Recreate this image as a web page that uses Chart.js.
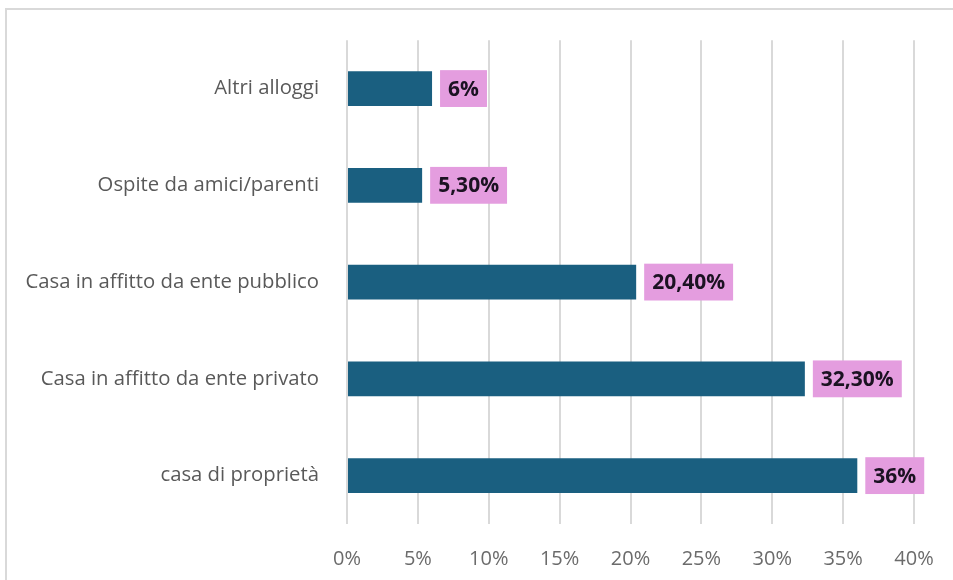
<!DOCTYPE html>
<html>
<head>
<meta charset="utf-8">
<script src="https://cdn.jsdelivr.net/npm/chart.js@4.4.1/dist/chart.umd.min.js"></script>
<style>
    html, body { margin: 0; padding: 0; background: #ffffff; overflow: hidden; }
    #wrap { position: relative; width: 953px; height: 580px; overflow: hidden; }
    #frame {
        position: absolute; left: 5px; top: 8px; width: 1100px; height: 700px;
        border: 2px solid #d9d9d9; box-sizing: border-box;
    }
    #barChart { position: absolute; left: 0; top: 0; }
</style>
</head>
<body>
<div id="wrap">
    <div id="frame"></div>
    <canvas id="barChart" width="953" height="580"></canvas>
</div>
<script>
// Chart data
const categories = [
    'Altri alloggi',
    'Ospite da amici/parenti',
    'Casa in affitto da ente pubblico',
    'Casa in affitto da ente privato',
    'casa di proprietà'
];
const values = [6, 5.3, 20.4, 32.3, 36];
const valueLabels = ['6%', '5,30%', '20,40%', '32,30%', '36%'];
const xTicks = [0, 5, 10, 15, 20, 25, 30, 35, 40];

const FONT = "'Open Sans', 'Noto Sans', sans-serif";

/**
 * Draws the pink value boxes at the end of each bar
 */
const valueBoxes = {
    id: 'valueBoxes',
    afterDatasetsDraw(chart) {
        const c = chart.ctx;
        const meta = chart.getDatasetMeta(0);
        c.save();
        c.font = "bold 21px " + FONT;
        c.textBaseline = 'middle';
        c.textAlign = 'left';
        meta.data.forEach((bar, i) => {
            const text = valueLabels[i];
            const w = c.measureText(text).width + 16;
            const h = bar.height + 2;
            const x = bar.x + 8;
            c.fillStyle = '#e49ddf';
            c.fillRect(x, bar.y - h / 2, w, h);
            c.fillStyle = '#1b1222';
            c.fillText(text, x + 8, bar.y + 1);
        });
        c.restore();
    }
};

const ctx = document.getElementById('barChart');

new Chart(ctx, {
    type: 'bar',
    data: {
        labels: categories,
        datasets: [{
            data: values,
            backgroundColor: '#1a5f80',
            categoryPercentage: 1,
            barPercentage: 0.36
        }]
    },
    options: {
        indexAxis: 'y',
        responsive: false,
        animation: false,
        layout: { padding: { top: 39, right: 39, bottom: 0, left: 0 } },
        plugins: {
            legend: { display: false },
            tooltip: { enabled: false }
        },
        scales: {
            x: {
                min: 0,
                max: 40,
                afterBuildTicks: (scale) => {
                    scale.ticks = xTicks.map(v => ({ value: v }));
                },
                afterFit: (scale) => {
                    scale.height = 56;
                    scale.paddingLeft = 0;
                    scale.paddingRight = 0;
                },
                border: { display: false },
                grid: { color: '#d9d9d9', lineWidth: 2, drawTicks: false },
                ticks: {
                    color: '#6b6b6b',
                    padding: 23,
                    font: { family: FONT, size: 20 },
                    callback: (v) => v + '%'
                }
            },
            y: {
                afterFit: (scale) => { scale.width = 347; },
                border: { display: false },
                grid: { display: false, drawTicks: false },
                ticks: {
                    color: '#595959',
                    padding: 28,
                    font: { family: FONT, size: 20.3 }
                }
            }
        }
    },
    plugins: [valueBoxes]
});
</script>
</body>
</html>
